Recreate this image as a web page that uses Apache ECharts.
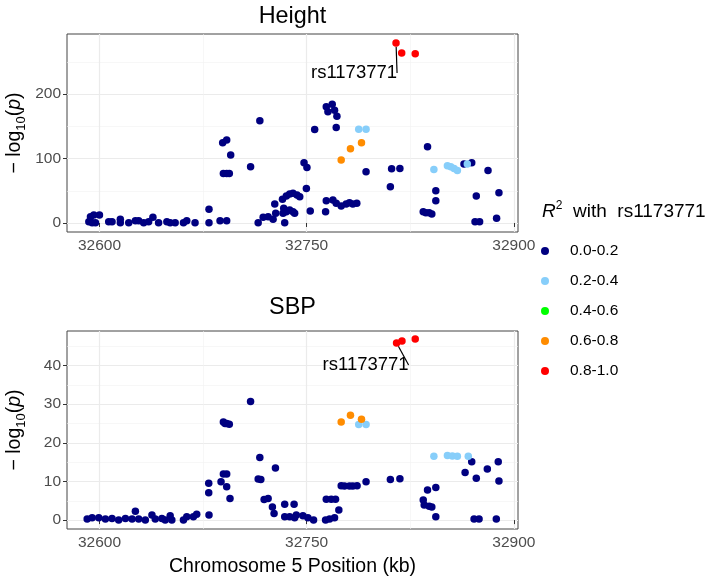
<!DOCTYPE html>
<html>
<head>
<meta charset="utf-8">
<script src="https://cdn.jsdelivr.net/npm/echarts@6/dist/echarts.min.js"></script>
<style>html,body{margin:0;padding:0;background:#fff}</style>
</head>
<body>
<div id="main" style="width:708px;height:578px"></div>
<script type="text/javascript">
// 数据：[位置(kb), -log10(p)]，按 R^2 分组
var leadSnp = 'rs1173771';
var r2Bins = ['0.0-0.2', '0.2-0.4', '0.4-0.6', '0.6-0.8', '0.8-1.0'];

var heightNavy = [
    [32592.3,2.1],[32593.5,9.8],[32595.9,12.4],[32600,12.4],[32594.7,0.5],[32597.1,0.5],[32606.7,2.1],[32609.1,2.1],
    [32615.1,5.7],[32615.1,0.5],[32621.2,0.5],[32626,3.6],[32628.4,3.6],[32632,0.5],[32635.6,2.1],[32638.7,8.8],
    [32642.8,0.5],[32648.8,2.1],[32651.2,0.5],[32654.8,0.3],[32660.8,0.5],[32663.2,3.6],[32669.2,0.5],[32679.3,21.2],
    [32679.3,0.5],[32687.3,3.6],[32692.1,3.6],[32689.2,124.5],[32692.1,128.7],[32695,105.4],[32689.7,77],[32692.1,77],
    [32694,77],[32709.4,87.3],[32716.1,158.7],[32714.9,0.5],[32718.5,8.8],[32722.1,9.8],[32725.7,5.7],[32727.6,15],
    [32726.9,29.5],[32734.1,0.5],[32732.5,36.7],[32735.3,41.9],[32737.7,45],[32740.1,46],[32743,43.4],[32745,40.8],
    [32749.8,53.7],[32733.4,22.7],[32735.3,17.6],[32737.7,20.2],[32740.1,17.6],[32741.3,15],[32732.9,15],[32748.1,93.5],
    [32750.2,86.3],[32752.6,18.6],[32755.8,145.2],[32763.7,17.6],[32764.2,34.6],[32769,35.7],[32771.4,30.5],[32775,26.4],
    [32778.6,29.5],[32781,31.5],[32783.4,29.5],[32786.3,30.5],[32764.2,180.4],[32765.4,172.6],[32768.5,184.5],[32770.2,175.2],
    [32771.9,165.9],[32771.4,148.3],[32793,79.6],[32810.6,56.3],[32811.5,84.2],[32817.5,84.8],[32834.4,17.6],[32836.3,16],
    [32838.7,16],[32840.6,14],[32837.5,118.3],[32843.5,50.1],[32843.5,34.6],[32863.9,91.5],[32869.5,93.5],[32872.8,41.9],
    [32871.9,2.1],[32875.2,2.1],[32881.3,81.7],[32887.5,7.2],[32889.2,47]
];
var heightBlue = [[32787.7,145.7],[32793,145.7],[32842.1,83.2],[32851.9,88.9],[32854.3,87.3],[32856.7,84.8],[32859.1,81.7],[32866.3,91.5]];
var heightGreen = [];
var heightOrange = [[32775,97.7],[32781.7,115.2],[32789.7,124.5]];
var heightRed = [[32814.7,279.6],[32818.8,264.1],[32828.6,263]];

var sbpNavy = [
    [32709.4,30.7],[32689.7,25.4],[32690.9,25],[32692.1,25],[32694,24.8],[32716.1,16.2],[32727.4,13.5],[32714.9,10.6],
    [32716.8,10.5],[32679.1,9.5],[32679.1,7.1],[32688,9.9],[32689.7,11.9],[32692.1,11.9],[32692.1,8.6],[32694.5,5.6],
    [32719.2,5.3],[32722.1,5.6],[32725.2,3.4],[32734.1,4.1],[32740.9,4.1],[32764.2,5.4],[32767.8,5.4],[32770.9,5.4],
    [32773.3,2.6],[32775,8.9],[32777.4,8.8],[32781,8.8],[32783.4,8.8],[32786.5,8.9],[32793,9.9],[32810.6,10.5],
    [32817.5,10.7],[32837.5,7.8],[32843.5,8.4],[32834.4,5.2],[32835.1,3.9],[32838.7,3.6],[32840.6,3.4],[32864.7,12.3],
    [32869.5,15.1],[32872.8,10.8],[32880.8,13.2],[32888.7,15.1],[32889.2,10.1],
    [32591.1,0.3],[32594.7,0.6],[32599.5,0.6],[32604.3,0.3],[32609.1,0.4],[32613.9,0],[32618.8,0.4],[32623.6,0.3],
    [32626,2.3],[32628.4,0.3],[32633.2,0],[32638,1.3],[32640.4,0.3],[32645.2,0.4],[32647.6,0],[32651.2,1.1],
    [32652.4,0],[32660.8,0],[32663.2,0.9],[32668,0.9],[32670.4,1.5],[32679.3,1.3],[32726.4,1.7],[32734.1,0.9],
    [32737.7,0.9],[32741.3,0.6],[32742.5,1.3],[32747.3,1.1],[32750.9,0.6],[32755,0],[32763.7,0],[32766.6,0.3],
    [32770.2,0.6],[32843.5,0.9],[32871.2,0.3],[32874.8,0.3],[32887.3,0.3]
];
var sbpBlue = [[32787.7,24.7],[32793,24.7],[32842.1,16.5],[32851.9,16.7],[32855.5,16.6],[32859.1,16.5],[32867,16.5]];
var sbpGreen = [];
var sbpOrange = [[32775,25.4],[32781.7,27.1],[32789.7,26.1]];
var sbpRed = [[32815.1,45.8],[32819,46.3],[32828.6,46.8]];

var xTicks = [32600, 32750, 32900];
var xMinor = [32675, 32825];
var heightTicks = [0, 100, 200];
var heightMinor = [50, 150, 250];
var sbpTicks = [0, 10, 20, 30, 40];
var sbpMinor = [5, 15, 25, 35, 45];

var FONT = 'Liberation Sans, Arial, sans-serif';
var binColors = ['#000080', '#87cefa', '#00ff00', '#ff8c00', '#ff0000'];

var myChart = echarts.init(document.getElementById('main'));

function majorAxis(gi, min, max, ticks) {
    return {
        type: 'value', gridIndex: gi, min: min, max: max,
        axisLine: {show: false},
        axisTick: {show: true, customValues: ticks, length: 4, lineStyle: {color: '#333', width: 1}},
        axisLabel: {customValues: ticks, margin: 6, color: '#4d4d4d', fontSize: 15.5, fontFamily: FONT,
            formatter: function (v) { return String(v); }},
        splitLine: {show: true, lineStyle: {color: '#ebebeb', width: 1.2}}
    };
}
function minorAxis(gi, min, max, ticks) {
    return {
        type: 'value', gridIndex: gi, min: min, max: max,
        axisLine: {show: false},
        axisTick: {show: false, customValues: ticks},
        axisLabel: {show: false, customValues: ticks},
        splitLine: {show: true, lineStyle: {color: '#f2f2f2', width: 0.6}}
    };
}

// 类似 ggrepel：引导线沿点与标签中心的连线，止于标签框边缘
function repelLayout(dx, dy) {
    return function (params) {
        var r = params.rect, lr = params.labelRect;
        var px = r.x + r.width / 2, py = r.y + r.height / 2;
        var cx = lr.x + lr.width / 2 + dx, cy = lr.y + lr.height / 2 + dy;
        var vx = cx - px, vy = cy - py;
        var len = Math.sqrt(vx * vx + vy * vy);
        var s = Math.min(lr.width / 2 / Math.abs(vx), lr.height / 2 / Math.abs(vy));
        var k = 3.5 / len;
        return {
            dx: dx, dy: dy,
            labelLinePoints: [[px + vx * k, py + vy * k], [cx - vx * s, cy - vy * s]]
        };
    };
}

function panelSeries(sets, gi, dx, dy) {
    return sets.map(function (pts, i) {
        return {
            type: 'scatter', name: r2Bins[i], xAxisIndex: gi, yAxisIndex: gi,
            symbolSize: 7.5, silent: true,
            itemStyle: {color: binColors[i], opacity: 1},
            label: {show: false, position: 'inside', formatter: leadSnp, color: '#000', fontSize: 18.5, fontFamily: FONT},
            labelLayout: repelLayout(dx, dy),
            labelLine: {show: true, lineStyle: {color: '#000', width: 1.2}},
            data: pts.map(function (p, j) {
                if (i === 4 && j === 0) return {value: p, label: {show: true}};
                return p;
            })
        };
    });
}

var xMin = 32576.5, xMax = 32903;

var option = {
    animation: false,
    grid: [
        {left: 67, top: 34, width: 451, height: 198, show: true, borderColor: '#444', borderWidth: 1, backgroundColor: '#fff'},
        {left: 67, top: 331, width: 451, height: 198, show: true, borderColor: '#444', borderWidth: 1, backgroundColor: '#fff'}
    ],
    xAxis: [
        majorAxis(0, xMin, xMax, xTicks),
        majorAxis(1, xMin, xMax, xTicks),
        minorAxis(0, xMin, xMax, xMinor),
        minorAxis(1, xMin, xMax, xMinor)
    ],
    yAxis: [
        majorAxis(0, -14, 293.5, heightTicks),
        majorAxis(1, -2.3, 48.9, sbpTicks),
        minorAxis(0, -14, 293.5, heightMinor),
        minorAxis(1, -2.3, 48.9, sbpMinor)
    ],
    legend: {
        data: r2Bins, orient: 'vertical', left: 536, top: 237,
        itemWidth: 40, itemHeight: 8, itemGap: 12, icon: 'circle', selectedMode: false,
        textStyle: {fontSize: 15.5, lineHeight: 18, color: '#000', fontFamily: FONT}
    },
    graphic: [
        {type: 'text', x: 292.5, y: 16.5, style: {text: 'Height', fill: '#000', fontSize: 23.4, fontFamily: FONT, align: 'center', verticalAlign: 'middle'}},
        {type: 'text', x: 292.5, y: 308, style: {text: 'SBP', fill: '#000', fontSize: 23.4, fontFamily: FONT, align: 'center', verticalAlign: 'middle'}},
        {type: 'text', x: 292.5, y: 567, style: {text: 'Chromosome 5 Position (kb)', fill: '#000', fontSize: 19.5, fontFamily: FONT, align: 'center', verticalAlign: 'middle'}},
        {type: 'text', x: 542, y: 212, style: {
            text: '{i|R}{sup|2}{t|  with  ' + leadSnp + '}', align: 'left', verticalAlign: 'middle',
            rich: {
                i: {fontSize: 19, fontStyle: 'italic', fontFamily: FONT, fill: '#000', lineHeight: 24},
                sup: {fontSize: 12, fontFamily: FONT, fill: '#000', lineHeight: 12, verticalAlign: 'top'},
                t: {fontSize: 19, fontFamily: FONT, fill: '#000', lineHeight: 24}
            }
        }}
    ],
    series: panelSeries([heightNavy, heightBlue, heightGreen, heightOrange, heightRed], 0, -42, 30)
        .concat(panelSeries([sbpNavy, sbpBlue, sbpGreen, sbpOrange, sbpRed], 1, -31, 22))
};

// y 轴标题（带下标）
[133, 430].forEach(function (cy) {
    option.graphic.push({
        type: 'text', x: 15, y: cy, rotation: Math.PI / 2,
        style: {
            text: '{a|− log}{s|10}{a|(}{p|p}{a|)}', align: 'center', verticalAlign: 'middle',
            rich: {
                a: {fontSize: 19.5, fontFamily: FONT, fill: '#000', lineHeight: 26},
                s: {fontSize: 13, fontFamily: FONT, fill: '#000', lineHeight: 13, verticalAlign: 'bottom'},
                p: {fontSize: 19.5, fontFamily: FONT, fill: '#000', fontStyle: 'italic', lineHeight: 26}
            }
        }
    });
});

myChart.setOption(option);
</script>
</body>
</html>
